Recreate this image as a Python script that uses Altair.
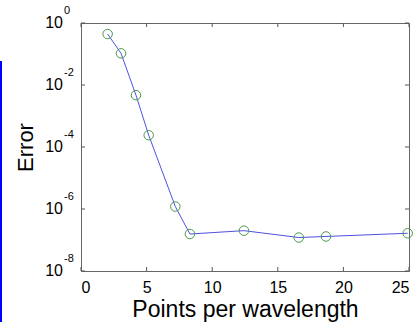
import altair as alt
import pandas as pd

# Data
points_per_wavelength = [2.03, 3.05, 4.19, 5.16, 7.19, 8.30, 12.42, 16.60, 18.67, 24.90]
error = [4.4e-1, 1.05e-1, 4.7e-3, 2.4e-4, 1.2e-6, 1.56e-7, 2.0e-7, 1.2e-7, 1.3e-7, 1.65e-7]
x_ticks = [0, 5, 10, 15, 20, 25]
y_exponents = ["0", "-2", "-4", "-6", "-8"]

FONT = "Liberation Sans"
W, H = 328, 248

df = pd.DataFrame({"ppw": points_per_wavelength, "err": error})
xt = pd.DataFrame({"ppw": x_ticks})
yt = pd.DataFrame({"exp": y_exponents, "err": [10.0 ** int(e) for e in y_exponents]})

xs = alt.Scale(domain=[0, 25], nice=False, zero=False)
ys = alt.Scale(type="log", domain=[1e-8, 1], nice=False)

x_axis = alt.Axis(values=x_ticks, ticks=False, domain=False, grid=False,
                  labelFont=FONT, labelFontSize=16, labelColor="black", labelPadding=8,
                  title="Points per wavelength", titleFont=FONT, titleFontSize=23,
                  titleFontWeight="normal", titleColor="black", titleY=45,
                  titleBaseline="alphabetic")
y_axis = alt.Axis(values=[10.0 ** int(e) for e in y_exponents], labels=False, ticks=False,
                  domain=False, grid=False, title="Error", titleFont=FONT, titleFontSize=22,
                  titleFontWeight="normal", titleColor="black", titleX=-49,
                  titleBaseline="alphabetic")

X = alt.X("ppw:Q", scale=xs, axis=x_axis)
Y = alt.Y("err:Q", scale=ys, axis=y_axis)

line = alt.Chart(df).mark_line(color="#5050e0", strokeWidth=1).encode(x=X, y=Y)
pts = alt.Chart(df).mark_point(shape="circle", filled=False, color="#4a9a4a",
                               size=90, strokeWidth=1, opacity=1).encode(x=X, y=Y)

tick_color = "#555555"
xb = alt.Chart(xt).mark_rule(color=tick_color, strokeWidth=1).encode(
    x=X, y=alt.value(H), y2=alt.value(H - 4))
xtop = alt.Chart(xt).mark_rule(color=tick_color, strokeWidth=1).encode(
    x=X, y=alt.value(0), y2=alt.value(4))
yl = alt.Chart(yt).mark_rule(color=tick_color, strokeWidth=1).encode(
    y=Y, x=alt.value(0), x2=alt.value(4))
yr = alt.Chart(yt).mark_rule(color=tick_color, strokeWidth=1).encode(
    y=Y, x=alt.value(W - 4), x2=alt.value(W))

ten = alt.Chart(yt).mark_text(align="right", baseline="middle", font=FONT,
                              fontSize=16, color="black", dy=0).encode(
    y=Y, x=alt.value(-18), text=alt.value("10"))
sup = alt.Chart(yt).mark_text(align="left", baseline="middle", font=FONT,
                              fontSize=11, color="black", dy=-12).encode(
    y=Y, x=alt.value(-17), text="exp:N")

bar = alt.Chart(pd.DataFrame({"a": [0]})).mark_rule(color="#0000ff", strokeWidth=2).encode(
    x=alt.value(-80), y=alt.value(38), y2=alt.value(H + 51))

chart = alt.layer(line, pts, xb, xtop, yl, yr, ten, sup, bar).properties(
    width=W, height=H,
    padding={"left": 81, "top": 23, "right": 6, "bottom": 51},
    autosize=alt.AutoSizeParams(type="none"),
    background="white",
).configure_view(stroke="#666666", strokeWidth=1)

chart.save("out.html", embed_options={"renderer": "svg", "actions": False})
